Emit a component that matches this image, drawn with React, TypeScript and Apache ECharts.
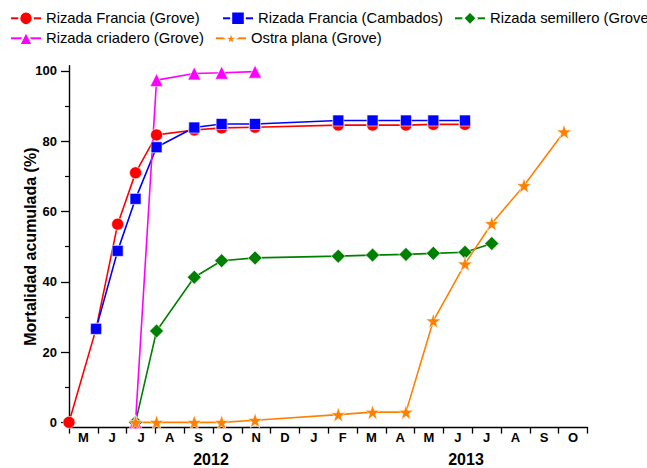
import React, { useEffect, useRef } from "react";
import * as echarts from "echarts";

// Tick labels
const months = ["M", "J", "J", "A", "S", "O", "N", "D", "J", "F", "M", "A", "M", "J", "J", "A", "S", "O"];
const years = ["2012", "2013"];
const yTicks = [0, 20, 40, 60, 80, 100];
const yMinorTicks = [10, 30, 50, 70, 90];

// Sampling times: months elapsed since 1 May 2012
const redX = [0, 0.94, 1.69, 2.31, 3.04, 4.35, 5.3, 6.46, 9.35, 10.54, 11.7, 12.65, 13.75];
const redY = [0, 26.6, 56.4, 71.0, 81.8, 83.2, 83.8, 84.0, 84.6, 84.6, 84.6, 84.8, 84.8];

const blueX = [0.94, 1.69, 2.31, 3.04, 4.35, 5.3, 6.46, 9.35, 10.54, 11.7, 12.65, 13.75];
const blueY = [26.6, 48.8, 63.6, 78.3, 83.9, 84.9, 84.9, 85.9, 85.9, 85.9, 85.9, 85.9];

const greenX = [2.31, 3.04, 4.35, 5.3, 6.46, 9.35, 10.54, 11.7, 12.65, 13.75, 14.68];
const greenY = [0, 26.0, 41.3, 46.0, 46.8, 47.3, 47.6, 47.8, 48.1, 48.4, 50.9];

const magentaX = [2.31, 3.04, 4.35, 5.3, 6.46];
const magentaY = [0, 97.4, 99.3, 99.5, 99.8];

const orangeX = [2.31, 3.04, 4.35, 5.3, 6.46, 9.35, 10.54, 11.7, 12.65, 13.75, 14.68, 15.8, 17.19];
const orangeY = [0, 0, 0, 0, 0.6, 2.2, 2.9, 2.9, 28.9, 45.1, 56.6, 67.4, 82.7];

const seriesNames = [
  "Rizada Francia (Grove)",
  "Rizada Francia (Cambados)",
  "Rizada semillero (Grove)",
  "Rizada criadero (Grove)",
  "Ostra plana (Grove)",
];

const STAR =
  "path://M50,0 L61.8,35.1 L98.1,35.1 L68.7,56.9 L79.4,91.9 L50,70.2 L20.6,91.9 L31.3,56.9 L1.9,35.1 L38.2,35.1 Z";

const FONT = 'Arial, "Liberation Sans", sans-serif';

const zip = (xs: number[], ys: number[]) => xs.map((x, i) => [x, ys[i]]);

export default function App() {
  const ref = useRef<HTMLDivElement>(null);

  useEffect(() => {
    if (!ref.current) return;
    const chart = echarts.init(ref.current, undefined, { renderer: "svg" });

    const mk = (name: string, data: number[][], color: string, symbol: string, size: number) => ({
      name,
      type: "line",
      xAxisIndex: 0,
      yAxisIndex: 0,
      data,
      symbol,
      symbolSize: size,
      showSymbol: true,
      lineStyle: { color, width: 1.6 },
      itemStyle: { color, borderColor: "#ffffff", borderWidth: 0.6 },
      emphasis: { disabled: true },
    });

    const legendBase = {
      itemWidth: 30,
      itemHeight: 17,
      padding: 0,
      textStyle: { color: "#000", fontSize: 14.8, fontFamily: FONT },
    };

    const legendPos = [
      { left: 10, top: 10.5 },
      { left: 222, top: 10.5 },
      { left: 454, top: 10.5 },
      { left: 10, top: 30.5 },
      { left: 215, top: 30.5 },
    ];

    chart.setOption({
      animation: false,
      textStyle: { fontFamily: FONT },
      grid: { left: 69, top: 65.7, width: 518.4, height: 361.9, containLabel: false },
      legend: seriesNames.map((n, i) => ({ ...legendBase, ...legendPos[i], data: [n] })),
      xAxis: [
        {
          type: "value",
          min: 0,
          max: 18,
          interval: 1,
          position: "bottom",
          axisLine: { show: true, onZero: false, lineStyle: { color: "#000", width: 1.4 } },
          axisTick: { show: true, inside: false, length: 6, lineStyle: { color: "#000", width: 1.3 } },
          axisLabel: { show: false },
          splitLine: { show: false },
        },
        {
          type: "category",
          data: months,
          boundaryGap: true,
          position: "bottom",
          axisLine: { show: false },
          axisTick: { show: false },
          axisLabel: { show: true, margin: 3, color: "#000", fontWeight: "bold", fontSize: 13, fontFamily: FONT },
          splitLine: { show: false },
        },
      ],
      yAxis: [
        {
          type: "value",
          min: -1.5,
          max: 101.5,
          position: "left",
          name: "Mortalidad acumulada (%)",
          nameLocation: "middle",
          nameGap: 31,
          nameMoveOverlap: false,
          nameTextStyle: { color: "#000", fontWeight: "bold", fontSize: 16, fontFamily: FONT },
          axisLine: { show: true, onZero: false, lineStyle: { color: "#000", width: 1.4 } },
          axisTick: { show: true, inside: false, length: 8, customValues: yTicks, lineStyle: { color: "#000", width: 1.3 } },
          axisLabel: { show: true, margin: 12, customValues: yTicks, color: "#000", fontWeight: "bold", fontSize: 13, fontFamily: FONT },
          splitLine: { show: false },
        },
        {
          type: "value",
          min: -1.5,
          max: 101.5,
          position: "left",
          axisLine: { show: false },
          axisTick: { show: true, inside: false, length: 4, customValues: yMinorTicks, lineStyle: { color: "#000", width: 1.2 } },
          axisLabel: { show: false },
          splitLine: { show: false },
        },
      ],
      graphic: years.map((y, i) => ({
        type: "text",
        x: i === 0 ? 211 : 466,
        y: 459.5,
        style: {
          text: y,
          fill: "#000",
          font: `bold 16px ${FONT}`,
          textAlign: "center",
          textVerticalAlign: "middle",
        },
      })),
      series: [
        mk(seriesNames[0], zip(redX, redY), "#ff0000", "circle", 12),
        mk(seriesNames[1], zip(blueX, blueY), "#0000ff", "rect", 11),
        mk(seriesNames[2], zip(greenX, greenY), "#008000", "diamond", 14),
        mk(seriesNames[3], zip(magentaX, magentaY), "#ff00ff", "triangle", 13),
        mk(seriesNames[4], zip(orangeX, orangeY), "#ff8000", STAR, 15),
      ],
    });

    return () => chart.dispose();
  }, []);

  return (
    <div
      ref={ref}
      style={{ position: "fixed", left: 0, top: 0, width: 647, height: 468, background: "#fff" }}
    />
  );
}
